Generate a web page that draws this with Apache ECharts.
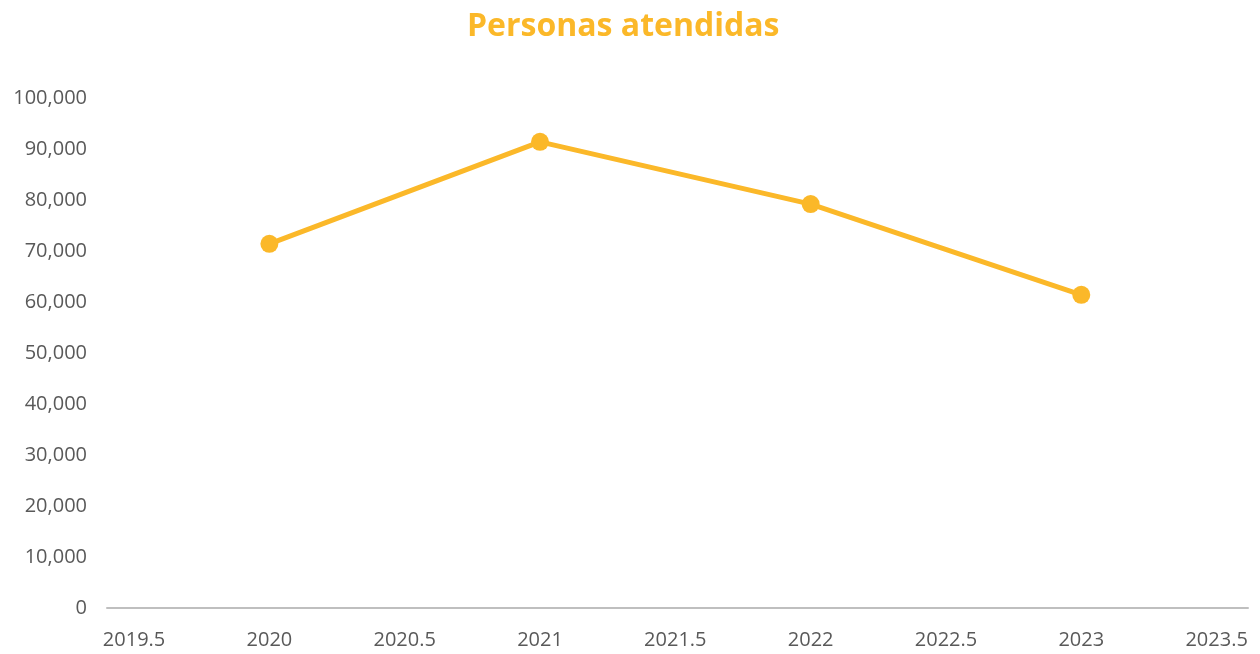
<!DOCTYPE html>
<html>
<head>
<meta charset="utf-8">
<script src="https://cdn.jsdelivr.net/npm/echarts@6/dist/echarts.min.js"></script>
<style>
  html, body { margin: 0; padding: 0; background: #fff; }
  #chart { width: 1260px; height: 654px; }
</style>
</head>
<body>
<div id="chart"></div>
<script>
// datos
const years = [2020, 2021, 2022, 2023]
const personas = [71400, 91400, 79200, 61400]
const xTicks = [2019.5, 2020, 2020.5, 2021, 2021.5, 2022, 2022.5, 2023, 2023.5]

const chartObj = echarts.init(document.getElementById('chart'))
const option = {
  animation: false,
  textStyle: { fontFamily: 'Open Sans' },
  title: {
    text: 'Personas atendidas',
    left: 462,
    top: 6,
    textStyle: { color: '#FBB829', fontSize: 32, fontWeight: 'bold', fontFamily: 'Open Sans' }
  },
  grid: { left: 107, right: 12, top: 98, bottom: 46 },
  xAxis: {
    type: 'value',
    min: 2019.4,
    max: 2023.616,
    axisLine: { show: true, lineStyle: { color: '#BFBFBF', width: 2 } },
    axisTick: { show: false },
    splitLine: { show: false },
    axisLabel: {
      customValues: xTicks,
      color: '#595959',
      fontSize: 20,
      margin: 22,
      formatter: v => String(v)
    }
  },
  yAxis: {
    type: 'value',
    min: 0,
    max: 100000,
    interval: 10000,
    axisLine: { show: false },
    axisTick: { show: false },
    splitLine: { show: false },
    axisLabel: {
      color: '#595959',
      fontSize: 20,
      margin: 20,
      formatter: v => v.toLocaleString('en-US')
    }
  },
  series: [
    {
      type: 'line',
      data: years.map((y, i) => [y, personas[i]]),
      symbol: 'circle',
      symbolSize: 18,
      lineStyle: { color: '#FBB829', width: 5 },
      itemStyle: { color: '#FBB829' }
    }
  ]
}
chartObj.setOption(option)
</script>
</body>
</html>
